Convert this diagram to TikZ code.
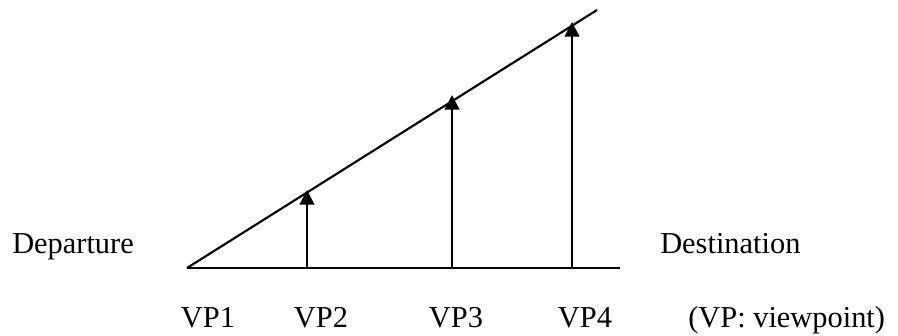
\documentclass[tikz,border=0pt]{standalone}
\usepackage{fontspec}
\setmainfont{Liberation Serif}
\usetikzlibrary{arrows.meta}
\begin{document}
\begin{tikzpicture}[x=0.75pt,y=-0.75pt,
  ln/.style={line width=1.6pt},
  vparrow/.style={line width=1.6pt,-{Triangle[width=11pt,length=11pt]}},
  lbl/.style={anchor=base,inner sep=0pt,font=\fontsize{22.8}{27}\selectfont},
  side/.style={anchor=base west,inner sep=0pt,font=\fontsize{22.8}{27}\selectfont}]
\useasboundingbox (0,0) rectangle (898,335);
\coordinate (start) at (187,268);
\coordinate (baseend) at (620,268);
\coordinate (slopeend) at (597,10);
\coordinate (b2) at (307,268);
\coordinate (b3) at (452,268);
\coordinate (b4) at (572,268);
\coordinate (t2) at (307,190);
\coordinate (t3) at (452,95);
\coordinate (t4) at (572,22);
\draw[ln] (start) -- (baseend);
\draw[ln] (start) -- (slopeend);
\draw[vparrow] (b2) -- (t2);
\draw[vparrow] (b3) -- (t3);
\draw[vparrow] (b4) -- (t4);
\node[side] (dep) at (12,253) {Departure};
\node[side] (dest) at (660,253) {Destination};
\node[lbl] (vp1) at (208,327) {VP1};
\node[lbl] (vp2) at (321,327) {VP2};
\node[lbl] (vp3) at (456,327) {VP3};
\node[lbl] (vp4) at (585,327) {VP4};
\node[side] (note) at (688,327) {(VP: viewpoint)};
\end{tikzpicture}
\end{document}
